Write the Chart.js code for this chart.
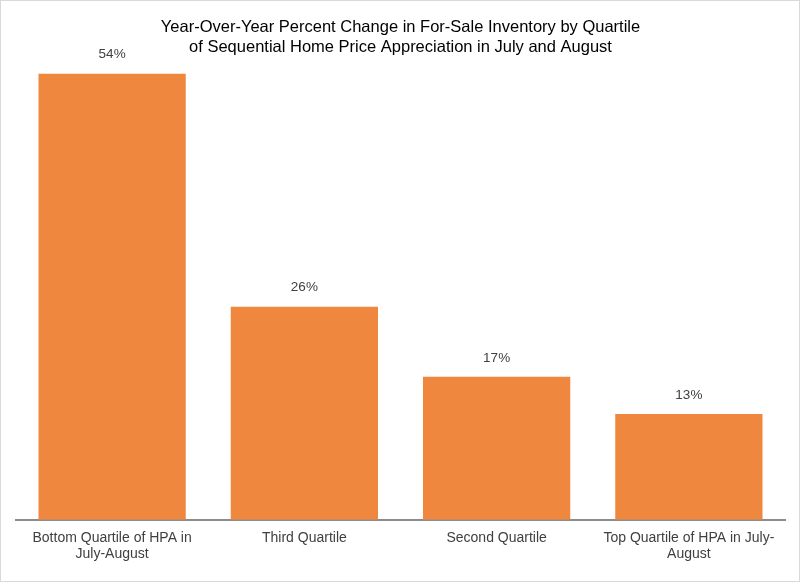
<!DOCTYPE html>
<html>
<head>
<meta charset="utf-8">
<script src="https://cdn.jsdelivr.net/npm/chart.js@4/dist/chart.umd.min.js"></script>
<style>
  html, body { margin: 0; padding: 0; background: #fff; }
  #wrap { width: 800px; height: 582px; position: relative; }
</style>
</head>
<body>
<div id="wrap"><canvas id="c" width="800" height="582"></canvas></div>
<script>
const categories = [
  ["Bottom Quartile of HPA in", "July-August"],
  ["Third Quartile"],
  ["Second Quartile"],
  ["Top Quartile of HPA in July-", "August"]
];
const inventoryChange = [54, 25.8, 17.3, 12.8];
const titleLines = [
  "Year-Over-Year Percent Change in For-Sale Inventory by Quartile",
  "of Sequential Home Price Appreciation in July and August"
];

const valueLabels = {
  id: 'valueLabels',
  afterDatasetsDraw(chart) {
    const ctx = chart.ctx;
    const meta = chart.getDatasetMeta(0);
    ctx.save();
    ctx.font = '13.5px "Liberation Sans", Arial, sans-serif';
    ctx.fillStyle = '#404040';
    ctx.textAlign = 'center';
    ctx.textBaseline = 'middle';
    meta.data.forEach((bar, i) => {
      const v = chart.data.datasets[0].data[i];
      ctx.fillText(Math.round(v) + '%', bar.x, bar.y - 19);
    });
    ctx.restore();
  }
};

const frame = {
  id: 'frame',
  beforeDraw(chart) {
    const ctx = chart.ctx;
    ctx.save();
    ctx.fillStyle = '#fff';
    ctx.fillRect(0, 0, chart.width, chart.height);
    ctx.strokeStyle = '#d9d9d9';
    ctx.lineWidth = 1;
    ctx.strokeRect(0.5, 0.5, chart.width - 1, chart.height - 1);
    ctx.restore();
  }
};

new Chart(document.getElementById('c'), {
  type: 'bar',
  data: {
    labels: categories,
    datasets: [{
      data: inventoryChange,
      backgroundColor: '#EF883E',
      borderWidth: 0,
      categoryPercentage: 1.0,
      barPercentage: 0.766
    }]
  },
  options: {
    responsive: false,
    animation: false,
    devicePixelRatio: 1,
    layout: { padding: { left: 16, right: 15, top: 0, bottom: 10 } },
    plugins: {
      legend: { display: false },
      tooltip: { enabled: false },
      title: {
        display: true,
        text: titleLines,
        color: '#000',
        font: { family: '"Liberation Sans", Arial, sans-serif', size: 16.5, weight: 'normal', lineHeight: 1.2 },
        padding: { top: 17.5, bottom: 0 }
      }
    },
    scales: {
      x: {
        grid: { display: false, drawTicks: false },
        border: { display: true, color: '#8c8c8c', width: 2 },
        ticks: {
          color: '#404040',
          padding: 10,
          maxRotation: 0,
          autoSkip: false,
          font: { family: '"Liberation Sans", Arial, sans-serif', size: 14, lineHeight: 1.15 }
        }
      },
      y: {
        display: false,
        min: 0,
        max: 56
      }
    }
  },
  plugins: [frame, valueLabels]
});
</script>
</body>
</html>
